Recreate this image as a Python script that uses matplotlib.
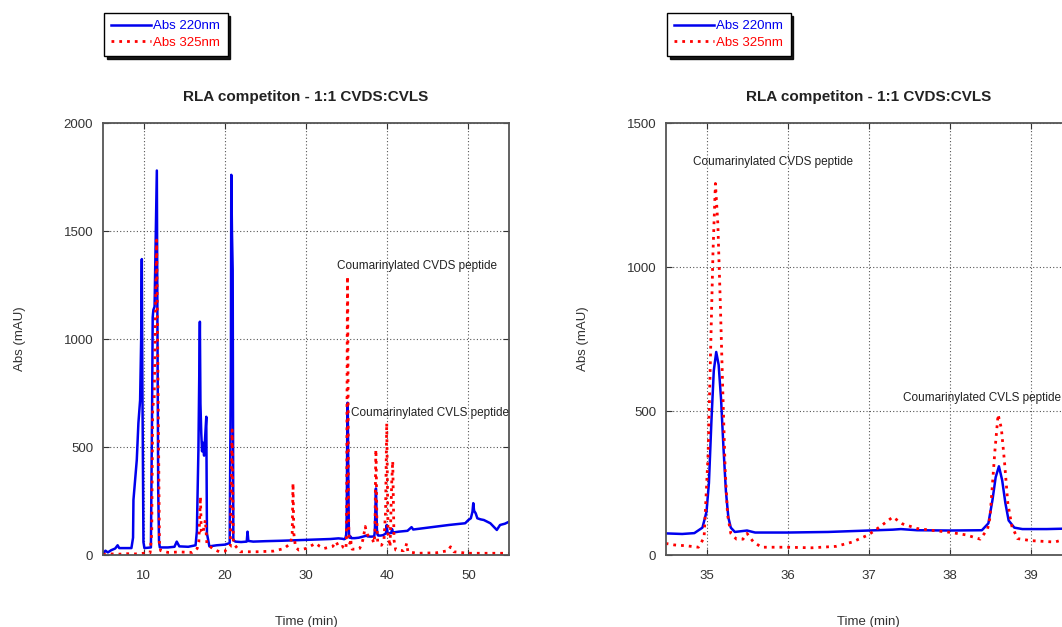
import matplotlib
matplotlib.use('Agg')
import matplotlib.pyplot as plt

plt.rcParams['font.family'] = ['Liberation Sans', 'DejaVu Sans']

#%% Datos leidos del cromatograma: (tiempo en min, absorbancia en mAU)

trace_220 = [
    (5.0, 5), (5.3, 20), (5.6, 12), (6.0, 22), (6.5, 30), (6.8, 45), (7.0, 32),
    (7.5, 32), (8.5, 32), (8.7, 80), (8.75, 255), (9.16, 440), (9.36, 611),
    (9.57, 717), (9.7, 1000), (9.78, 1370), (9.85, 800), (9.98, 60), (10.1, 32),
    (10.9, 35), (11.05, 700), (11.12, 1100), (11.2, 1134), (11.35, 1150),
    (11.45, 1370), (11.55, 1600), (11.63, 1780), (11.7, 1100), (11.8, 300),
    (11.9, 60), (12.0, 35), (13.0, 35), (13.8, 38), (14.08, 62), (14.4, 40),
    (15.5, 38), (16.4, 45), (16.56, 110), (16.75, 486), (16.93, 1080),
    (17.0, 700), (17.1, 565), (17.2, 480), (17.3, 520), (17.45, 460),
    (17.6, 560), (17.72, 640), (17.8, 100), (18.1, 40), (19.0, 45), (20.0, 48),
    (20.6, 55), (20.75, 900), (20.8, 1760), (20.88, 1500), (20.97, 1319),
    (21.05, 69), (21.3, 62), (22.0, 60), (22.7, 62), (22.8, 108), (22.9, 65),
    (23.5, 62), (25.0, 64), (27.0, 66), (29.0, 69), (30.0, 70), (31.5, 72),
    (33.0, 74), (34.0, 77), (34.5, 75), (34.7, 73), (34.85, 76), (34.95, 95),
    (35.0, 150), (35.03, 250), (35.06, 460), (35.09, 640), (35.12, 705),
    (35.15, 660), (35.18, 540), (35.21, 370), (35.24, 220), (35.27, 130),
    (35.3, 95), (35.35, 80), (35.5, 85), (35.6, 78), (36.0, 78), (36.5, 80),
    (37.0, 85), (37.3, 88), (37.4, 90), (37.6, 86), (38.0, 85), (38.4, 86),
    (38.48, 110), (38.53, 190), (38.57, 270), (38.61, 308), (38.65, 260),
    (38.69, 180), (38.73, 120), (38.8, 95), (38.9, 90), (39.2, 90), (39.5, 92),
    (39.85, 100), (39.94, 139), (40.05, 100), (40.5, 102), (40.6, 120),
    (40.7, 104), (41.4, 108), (42.5, 112), (43.0, 129), (43.2, 118),
    (44.0, 122), (45.5, 129), (47.6, 139), (49.6, 147), (50.0, 162),
    (50.3, 170), (50.5, 200), (50.6, 240), (50.7, 205), (50.9, 193),
    (51.1, 170), (51.5, 165), (51.9, 162), (52.7, 147), (53.5, 116),
    (53.9, 139), (54.5, 145), (55.0, 154),
]

trace_325 = [
    (5.0, 3), (6.0, 5), (7.0, 4), (8.0, 6), (9.0, 5), (10.0, 8), (10.8, 10),
    (11.0, 100), (11.12, 687), (11.3, 717), (11.45, 1100), (11.6, 1458),
    (11.75, 900), (11.95, 60), (12.1, 20), (13.0, 12), (14.5, 14), (16.0, 12),
    (16.6, 30), (16.8, 60), (17.0, 270), (17.1, 110), (17.3, 100), (17.6, 162),
    (17.8, 50), (18.5, 30), (19.3, 15), (20.0, 18), (20.68, 38), (20.9, 579),
    (21.05, 54), (21.9, 15), (24.0, 15), (26.0, 18), (27.3, 30), (28.1, 54),
    (28.3, 100), (28.4, 333), (28.5, 100), (28.7, 38), (29.1, 23), (30.0, 30),
    (31.2, 54), (31.7, 40), (32.2, 30), (33.3, 40), (33.7, 62), (34.0, 40),
    (34.3, 35), (34.5, 40), (34.6, 35), (34.75, 32), (34.9, 27), (34.97, 60),
    (35.02, 350), (35.05, 700), (35.08, 1050), (35.11, 1290), (35.14, 1150),
    (35.17, 880), (35.2, 580), (35.23, 300), (35.26, 140), (35.3, 75),
    (35.37, 55), (35.45, 55), (35.5, 75), (35.58, 45), (35.68, 27), (36.0, 27),
    (36.3, 25), (36.6, 30), (36.8, 45), (37.0, 70), (37.15, 100), (37.3, 132),
    (37.42, 108), (37.6, 92), (37.8, 85), (38.0, 79), (38.2, 70), (38.38, 55),
    (38.47, 90), (38.5, 130), (38.56, 360), (38.6, 488), (38.64, 440),
    (38.68, 320), (38.72, 180), (38.77, 100), (38.84, 57), (39.0, 50),
    (39.3, 45), (39.6, 69), (39.8, 200), (39.94, 611), (40.1, 100),
    (40.35, 38), (40.55, 330), (40.68, 435), (40.84, 69), (41.05, 23),
    (42.0, 20), (42.28, 38), (42.4, 54), (42.55, 15), (43.7, 8), (46.0, 10),
    (47.5, 20), (47.8, 38), (48.2, 15), (49.9, 8), (52.0, 8), (55.0, 8),
]

# Anotaciones: (texto, t, abs) para cada panel
notes_left = [('Coumarinylated CVDS peptide', 33.8, 1338),
              ('Coumarinylated CVLS peptide', 35.5, 657)]
notes_right = [('Coumarinylated CVDS peptide', 34.83, 1365),
               ('Coumarinylated CVLS peptide', 37.43, 545)]

title = 'RLA competiton - 1:1 CVDS:CVLS'

time_220, abs_220 = zip(*trace_220)
time_325, abs_325 = zip(*trace_325)

#%% Figura

W, H = 1062, 627
fig = plt.figure(figsize=(W / 100, H / 100), dpi=100)


def setup_axes(ax, xlim, ylim, xticks, yticks):
    ax.set_xlim(*xlim)
    ax.set_ylim(*ylim)
    ax.set_xticks(xticks)
    ax.set_yticks(yticks)
    ax.grid(True, linestyle=(0, (1, 2)), color='#555555', linewidth=0.8)
    ax.tick_params(direction='in', length=4, top=True, right=True,
                   labelsize=9.5, labelcolor='#333333', color='#333333')
    ax.tick_params(axis='x', pad=11)
    ax.tick_params(axis='y', pad=7)
    for sp in ax.spines.values():
        sp.set_color('#555555')
        sp.set_linewidth(1.3)
    ax.set_title(title, fontsize=11, fontweight='bold', pad=16, color='#222222')
    ax.set_xlabel('Time (min)', fontsize=9.5, color='#333333')
    ax.set_ylabel('Abs (mAU)', fontsize=9.5, color='#333333')
    ax.xaxis.set_label_coords(0.5, -0.142)
    ax.yaxis.set_label_coords(-0.19, 0.5)


panels = [
    (103, 406, (5, 55), (0, 2000), [10, 20, 30, 40, 50], [0, 500, 1000, 1500, 2000], notes_left),
    (666, 405, (34.5, 39.5), (0, 1500), [35, 36, 37, 38, 39], [0, 500, 1000, 1500], notes_right),
]

for x0, w, xlim, ylim, xt, yt, notes in panels:
    ax = fig.add_axes([x0 / W, 1 - 555 / H, w / W, 432 / H])
    l1, = ax.plot(time_220, abs_220, color='#0000ee', lw=1.8, label='Abs 220nm')
    l2, = ax.plot(time_325, abs_325, color='#ff0000', lw=2, linestyle=(0, (1, 1.8)),
                  label='Abs 325nm')
    setup_axes(ax, xlim, ylim, xt, yt)
    for txt, tx, ty in notes:
        ax.text(tx, ty, txt, fontsize=8.5, color='#222222', va='center', ha='left')
    fig.legend(handles=[l1, l2], loc='upper left',
               bbox_to_anchor=((x0 + 1) / W, 1 - 13 / H), borderaxespad=0,
               fontsize=9.5, labelcolor='linecolor', fancybox=False,
               shadow={'color': 'black', 'alpha': 0.9, 'ox': 2, 'oy': -2},
               edgecolor='black', framealpha=1, handlelength=3.0, handletextpad=0.2,
               borderpad=0.55, labelspacing=0.3)

fig.savefig('out.png', dpi=100)
